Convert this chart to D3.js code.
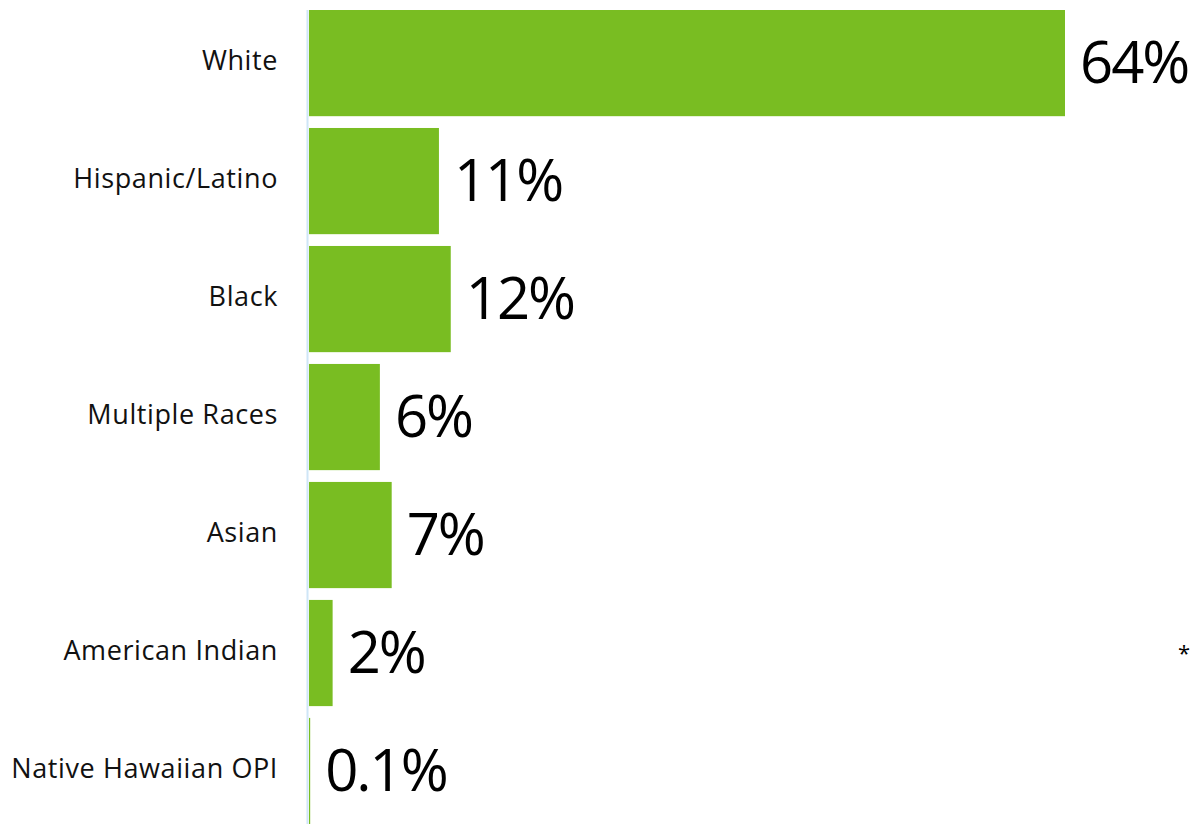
<!DOCTYPE html>
<html><head><meta charset="utf-8">
<script src="https://cdn.jsdelivr.net/npm/d3@7"></script>
<style>body{margin:0;background:#fff}svg{display:block}</style>
</head><body>
<svg id="c" width="1194" height="824"></svg>
<script>
const categories = ["White","Hispanic/Latino","Black","Multiple Races","Asian","American Indian","Native Hawaiian OPI"];
const values = [64, 11, 12, 6, 7, 2, 0.1];
const valueLabels = ["64%","11%","12%","6%","7%","2%","0.1%"];
const footnote = "*";

const svg = d3.select("#c");
const x = d3.scaleLinear().domain([0, 64]).range([309, 1065]);
const y = d3.scaleBand().domain(categories).range([4.1, 830]).paddingInner(0.1).paddingOuter(0.05);

svg.selectAll("rect.bar").data(categories).join("rect")
  .attr("class","bar")
  .attr("x", x(0))
  .attr("y", d => y(d))
  .attr("width", (d,i) => x(values[i]) - x(0))
  .attr("height", y.bandwidth())
  .attr("fill", "#79bd22");

svg.append("line").attr("x1",307.5).attr("x2",307.5).attr("y1",y(categories[0])).attr("y2",824)
  .attr("stroke","#cfe6f7").attr("stroke-width",2);

svg.selectAll("text.cat").data(categories).join("text")
  .attr("class","cat")
  .attr("x", 278)
  .attr("y", d => y(d) + y.bandwidth()/2 - 4)
  .attr("text-anchor","end")
  .attr("dominant-baseline","central")
  .attr("font-family","'Open Sans', sans-serif")
  .attr("font-size", 27)
  .attr("letter-spacing", 0.6)
  .attr("fill","#111")
  .text(d => d);

svg.selectAll("text.val").data(categories).join("text")
  .attr("class","val")
  .attr("x", (d,i) => x(values[i]) + 15)
  .attr("y", d => y(d) + y.bandwidth()/2 - 3)
  .attr("dominant-baseline","central")
  .attr("font-family","'Open Sans', sans-serif")
  .attr("font-size", 58)
  .attr("letter-spacing", -2)
  .attr("fill","#000")
  .text((d,i) => valueLabels[i]);

svg.append("text").attr("x",1178).attr("y", y(categories[5]) + y.bandwidth()/2 + 8)
  .attr("font-family","'Open Sans', sans-serif").attr("font-size",22).attr("fill","#000").text(footnote);
</script>
</body></html>
